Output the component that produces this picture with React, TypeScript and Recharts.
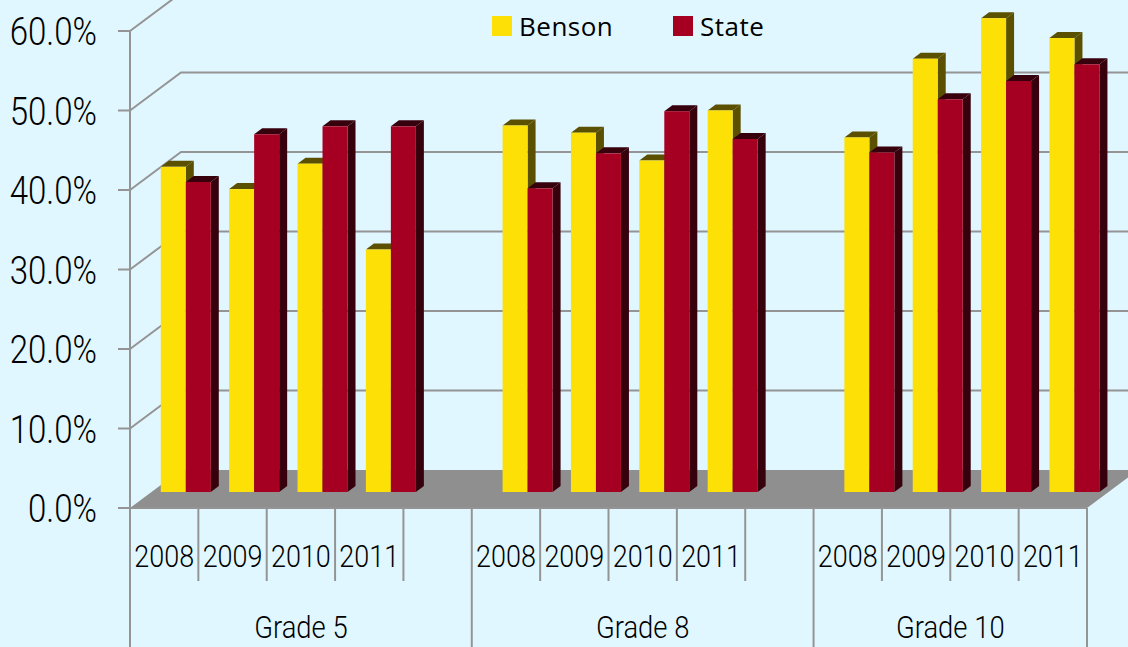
import { BarChart, Bar, XAxis, YAxis, CartesianGrid, Legend } from "recharts";

const years = ["2008", "2009", "2010", "2011", "", "2008", "2009", "2010", "2011", "", "2008", "2009", "2010", "2011"];
const benson = [40.9, 38.1, 41.3, 30.5, null, 46.1, 45.2, 41.7, 48.0, null, 44.6, 54.5, 59.6, 57.1];
const state = [39.0, 45.0, 46.0, 46.0, null, 38.2, 42.6, 47.9, 44.4, null, 42.7, 49.4, 51.7, 53.8];
const grades = ["Grade 5", "Grade 8", "Grade 10"];
const gradeSlots = [5, 5, 4];
const yTicks = [0, 10, 20, 30, 40, 50, 60];

const data = years.map((year, i) => ({ year, benson: benson[i], state: state[i] }));

const WIDTH = 1128;
const HEIGHT = 647;
const LEFT = 130;
const RIGHT = 41;
const TOP = 31;
const BOTTOM = 139;
const SLOT = (WIDTH - LEFT - RIGHT) / years.length;
const GRAY = "#949494";
const BG = "#e1f7ff";

// the original labels are a squeezed light sans, so squeeze Roboto the same way
const NarrowText = ({ x, y, size, anchor, children }: any) => (
  <text
    transform={`translate(${x},${y}) scale(0.87,1)`}
    textAnchor={anchor}
    fontFamily="Roboto, sans-serif"
    fontWeight={300}
    fontSize={size}
    fill="#000"
  >
    {children}
  </text>
);

// 3d bar: front face plus top and side, pushed back onto the floor
const bar3d = (front: string, dark: string) => (props: any) => {
  const { x, y, width, height } = props;
  if (!height) return <g />;
  const l = x + 21.8;
  const r = l + width;
  const t = y - 16;
  const b = t + height;
  const dx = 8;
  const dy = 6;
  return (
    <g>
      <polygon points={`${l},${t} ${l + dx},${t - dy} ${r + dx},${t - dy} ${r},${t}`} fill={dark} />
      <polygon points={`${r},${t} ${r + dx},${t - dy} ${r + dx},${b - dy} ${r},${b}`} fill={dark} />
      <rect x={l} y={t} width={width} height={height} fill={front} />
    </g>
  );
};

const gridLine = (props: any) => {
  const { x1, x2, y1, index } = props;
  const bx = 51;
  const by = 38;
  return (
    <g key={`grid-${y1}-${index}`}>
      {Math.abs(y1 - (HEIGHT - BOTTOM)) < 1 ? (
        <polygon points={`${x1},${y1} ${x2},${y1} ${x2 + bx},${y1 - by} ${x1 + bx},${y1 - by}`} fill="#8f8f8f" />
      ) : (
        <polyline points={`${x1},${y1} ${x1 + bx},${y1 - by} ${WIDTH + 20},${y1 - by}`} fill="none" stroke={GRAY} strokeWidth={2} />
      )}
    </g>
  );
};

const YTick = (props: any) => {
  const { y, payload } = props;
  return (
    <g>
      <line x1={118} x2={LEFT} y1={y} y2={y} stroke={GRAY} strokeWidth={2} />
      <NarrowText x={97} y={y + 14} size={38} anchor="end">
        {`${payload.value}.0%`}
      </NarrowText>
    </g>
  );
};

const XTick = (props: any) => {
  const { x, payload } = props;
  const i = payload.index;
  const left = x - SLOT / 2;
  const base = HEIGHT - BOTTOM;
  let start = 0;
  const labels: any[] = [];
  let isGroupStart = false;
  gradeSlots.forEach((n, g) => {
    if (i === start) {
      isGroupStart = true;
      labels.push(
        <NarrowText key={g} x={left + (n * SLOT) / 2} y={638} size={31.5} anchor="middle">
          {grades[g]}
        </NarrowText>
      );
    }
    start += n;
  });
  return (
    <g>
      <line x1={left} x2={left} y1={base} y2={isGroupStart ? HEIGHT : 581} stroke={GRAY} strokeWidth={2} />
      {i === years.length - 1 && <line x1={left + SLOT} x2={left + SLOT} y1={base} y2={HEIGHT} stroke={GRAY} strokeWidth={2} />}
      <NarrowText x={x} y={567} size={31} anchor="middle">
        {payload.value}
      </NarrowText>
      {labels}
    </g>
  );
};

const LegendBox = (props: any) => (
  <div style={{ position: "relative", height: 40, fontFamily: "'Open Sans', sans-serif", fontSize: 26, letterSpacing: 0.5, color: "#000" }}>
    {(props.payload || []).map((item: any, i: number) => (
      <div key={item.value} style={{ position: "absolute", left: i * 181, top: 0, display: "flex", alignItems: "center", height: 40 }}>
        <span style={{ width: 20, height: 20, background: item.color, marginRight: 7 }} />
        <span>{item.value}</span>
      </div>
    ))}
  </div>
);

export default function App() {
  return (
    <div style={{ position: "absolute", left: 0, top: 0, width: WIDTH, height: HEIGHT, background: BG, overflow: "hidden" }}>
      <BarChart
        width={WIDTH}
        height={HEIGHT}
        data={data}
        margin={{ top: TOP, right: RIGHT, bottom: 0, left: 0 }}
        barSize={25}
        barGap={0}
      >
        <CartesianGrid horizontal={gridLine} vertical={false} />
        <XAxis dataKey="year" interval={0} height={BOTTOM} tick={XTick} tickLine={false} axisLine={{ stroke: GRAY, strokeWidth: 2 }} />
        <YAxis
          width={LEFT}
          domain={[0, 60]}
          ticks={yTicks}
          tick={YTick}
          tickLine={false}
          axisLine={{ stroke: GRAY, strokeWidth: 2 }}
        />
        <Legend
          verticalAlign="middle"
          content={LegendBox}
          wrapperStyle={{ left: 492, top: 6, width: 300 }}
        />
        <Bar dataKey="benson" name="Benson" fill="#fde006" isAnimationActive={false} shape={bar3d("#fde006", "#5a5000")} />
        <Bar dataKey="state" name="State" fill="#a50021" isAnimationActive={false} shape={bar3d("#a50021", "#36000c")} />
      </BarChart>
    </div>
  );
}
